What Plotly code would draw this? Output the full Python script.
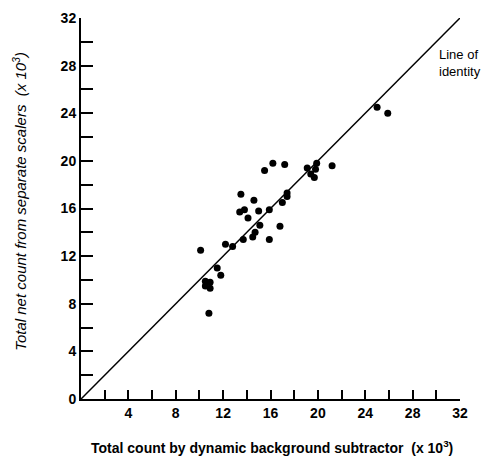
import plotly.graph_objects as go

# Data (units of 10^3 counts)
dbs_counts = [10.1, 10.8, 10.5, 10.9, 10.5, 10.9, 11.5, 11.8, 12.2, 12.8,
              13.5, 13.4, 13.8, 14.1, 13.7, 14.6, 15.0, 14.5, 14.7, 15.1,
              15.5, 16.2, 17.2, 15.9, 15.9, 16.8, 17.0, 17.4, 17.4, 19.1,
              19.9, 19.8, 19.4, 19.7, 21.2, 25.0, 25.9]
scaler_counts = [12.5, 7.2, 9.9, 9.8, 9.5, 9.3, 11.0, 10.4, 13.0, 12.8,
                 17.2, 15.7, 15.9, 15.2, 13.4, 16.7, 15.8, 13.6, 14.0, 14.6,
                 19.2, 19.8, 19.7, 15.9, 13.4, 14.5, 16.5, 17.3, 17.0, 19.4,
                 19.8, 19.3, 18.9, 18.6, 19.6, 24.5, 24.0]
identity_line = [0, 32]
x_ticks = [4, 8, 12, 16, 20, 24, 28, 32]
y_ticks = [0, 4, 8, 12, 16, 20, 24, 28, 32]

FONT = "Liberation Sans, Arial, sans-serif"

fig = go.Figure()
fig.add_trace(go.Scatter(x=identity_line, y=identity_line, mode="lines",
                         line=dict(color="black", width=1.5),
                         hoverinfo="skip", showlegend=False, cliponaxis=False))
fig.add_trace(go.Scatter(x=dbs_counts, y=scaler_counts, mode="markers",
                         marker=dict(color="black", size=7),
                         showlegend=False))

fig.update_xaxes(range=[0, 32], tickvals=x_ticks,
                 ticktext=["<b>%d</b>" % v for v in x_ticks],
                 showline=True, linecolor="black", linewidth=2,
                 ticks="inside", ticklen=9, tickwidth=1.5, tickcolor="black",
                 minor=dict(dtick=2, tick0=0, ticks="inside", ticklen=9,
                            tickwidth=1.5, tickcolor="black"),
                 showgrid=False, zeroline=False, automargin=False,
                 tickfont=dict(family=FONT, size=14, color="black"))
fig.update_yaxes(range=[0, 32], tickvals=y_ticks,
                 ticktext=["<b>%d</b>" % v for v in y_ticks],
                 showline=True, linecolor="black", linewidth=2,
                 ticks="inside", ticklen=12, tickwidth=1.5, tickcolor="black",
                 minor=dict(dtick=2, tick0=0, ticks="inside", ticklen=12,
                            tickwidth=1.5, tickcolor="black"),
                 showgrid=False, zeroline=False, automargin=False,
                 tickfont=dict(family=FONT, size=14, color="black"))

# Axis titles
fig.add_annotation(text="<b>Total count by dynamic background subtractor  (x 10<sup>3</sup>)</b>",
                   xref="paper", yref="paper", x=0.504, y=-0.126,
                   xanchor="center", yanchor="middle", showarrow=False,
                   font=dict(family=FONT, size=14, color="black"))
fig.add_annotation(text="<i>Total net count from separate scalers  (x 10<sup>3</sup>)</i>",
                   xref="paper", yref="paper", x=-0.161, y=0.52, textangle=-90,
                   xanchor="center", yanchor="middle", showarrow=False,
                   font=dict(family=FONT, size=15, color="black"))

fig.add_annotation(text="Line of<br>identity", xref="paper", yref="paper",
                   x=0.939, y=0.882, xanchor="left", yanchor="middle", showarrow=False,
                   align="left", font=dict(family=FONT, size=13, color="black"))

fig.update_layout(width=486, height=458, margin=dict(l=81, r=26, t=18, b=59),
                  plot_bgcolor="white", paper_bgcolor="white")

fig.write_html("out.html", config={"displayModeBar": False},
               post_script="document.body.style.margin='0';document.body.style.overflow='hidden';")
